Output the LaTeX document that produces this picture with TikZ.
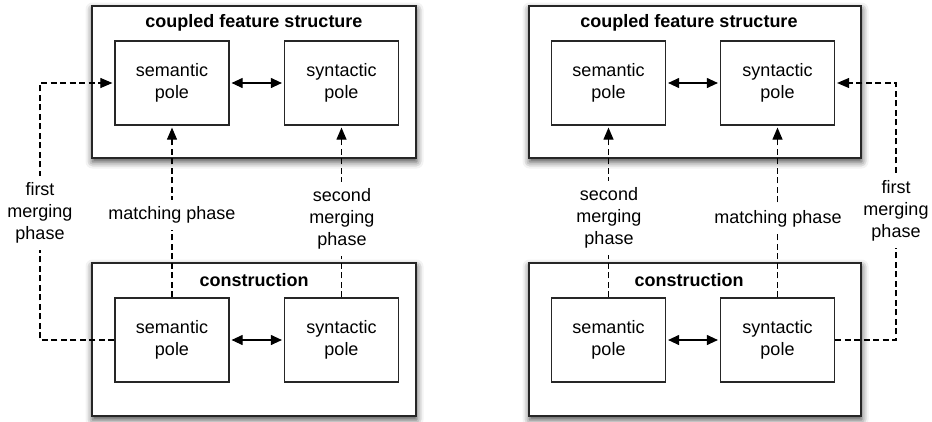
\documentclass[tikz,border=0pt]{standalone}
\usepackage{fontspec}
\setmainfont{Liberation Sans}
\usetikzlibrary{arrows.meta,shadows.blur}
\begin{document}
\begin{tikzpicture}[x=1pt,y=-1pt,
  font=\fontsize{18}{22}\selectfont,
  outer/.style={draw=black!85, line width=1.8pt, fill=white,
    blur shadow={shadow xshift=0.5pt, shadow yshift=-3.5pt, shadow blur radius=7pt, shadow opacity=75}},
  pole/.style={draw=black!85, line width=1.2pt, fill=white, minimum width=114pt,
    minimum height=84pt, align=center, inner sep=0pt},
  title/.style={font=\fontsize{18}{22}\selectfont\bfseries},
  phase/.style={dash pattern=on 6pt off 3.5pt, line width=1.1pt},
  tip/.style={-{Triangle[length=12pt,width=10pt]}, shorten >=2pt},
  both/.style={{Triangle[length=11pt,width=10pt]}-{Triangle[length=11pt,width=10pt]},
    line width=1.1pt, shorten >=2pt, shorten <=2pt},
  lbl/.style={fill=white, align=center, inner sep=7pt}]
\useasboundingbox (0,0) rectangle (932,421);

% ---------- left diagram ----------
\node[outer, minimum width=324pt, minimum height=152pt] (cfsL) at (254,82) {};
\node[outer, minimum width=324pt, minimum height=153pt] (cxnL) at (254,339.5) {};
\node[title] (tcfsL) at (254,23) {coupled feature structure};
\node[title] (tcxnL) at (254,280) {construction};
\node[pole] (A) at (172,83) {semantic\\pole};
\node[pole] (B) at (341.5,83) {syntactic\\pole};
\node[pole] (C) at (172,340) {semantic\\pole};
\node[pole] (D) at (341.5,340) {syntactic\\pole};
\coordinate (fL) at (40,213);
\draw[both] (A.east) -- (B.west);
\draw[both] (C.east) -- (D.west);
\draw[phase,tip] (C.west) -- (C.west -| fL) -- (A.west -| fL) -- (A.west);
\draw[phase,tip] (C.north) -- (A.south);
\draw[phase,tip] (D.north) -- (B.south);
\node[lbl] (l1) at (40,213) {first\\merging\\phase};
\node[lbl] (l2) at (172,215) {matching phase};
\node[lbl] (l3) at (342,219) {second\\merging\\phase};

% ---------- right diagram ----------
\node[outer, minimum width=332pt, minimum height=152pt] (cfsR) at (695,82) {};
\node[outer, minimum width=332pt, minimum height=153pt] (cxnR) at (695,339.5) {};
\node[title] (tcfsR) at (689,23) {coupled feature structure};
\node[title] (tcxnR) at (689,280) {construction};
\node[pole] (E) at (608.5,83) {semantic\\pole};
\node[pole] (F) at (777.5,83) {syntactic\\pole};
\node[pole] (G) at (608.5,340) {semantic\\pole};
\node[pole] (H) at (777.5,340) {syntactic\\pole};
\coordinate (fR) at (896,211);
\draw[both] (E.east) -- (F.west);
\draw[both] (G.east) -- (H.west);
\draw[phase,tip] (H.east) -- (H.east -| fR) -- (F.east -| fR) -- (F.east);
\draw[phase,tip] (G.north) -- (E.south);
\draw[phase,tip] (H.north) -- (F.south);
\node[lbl] (r1) at (896,211) {first\\merging\\phase};
\node[lbl] (r2) at (778,219) {matching phase};
\node[lbl] (r3) at (609,218) {second\\merging\\phase};
\end{tikzpicture}
\end{document}
